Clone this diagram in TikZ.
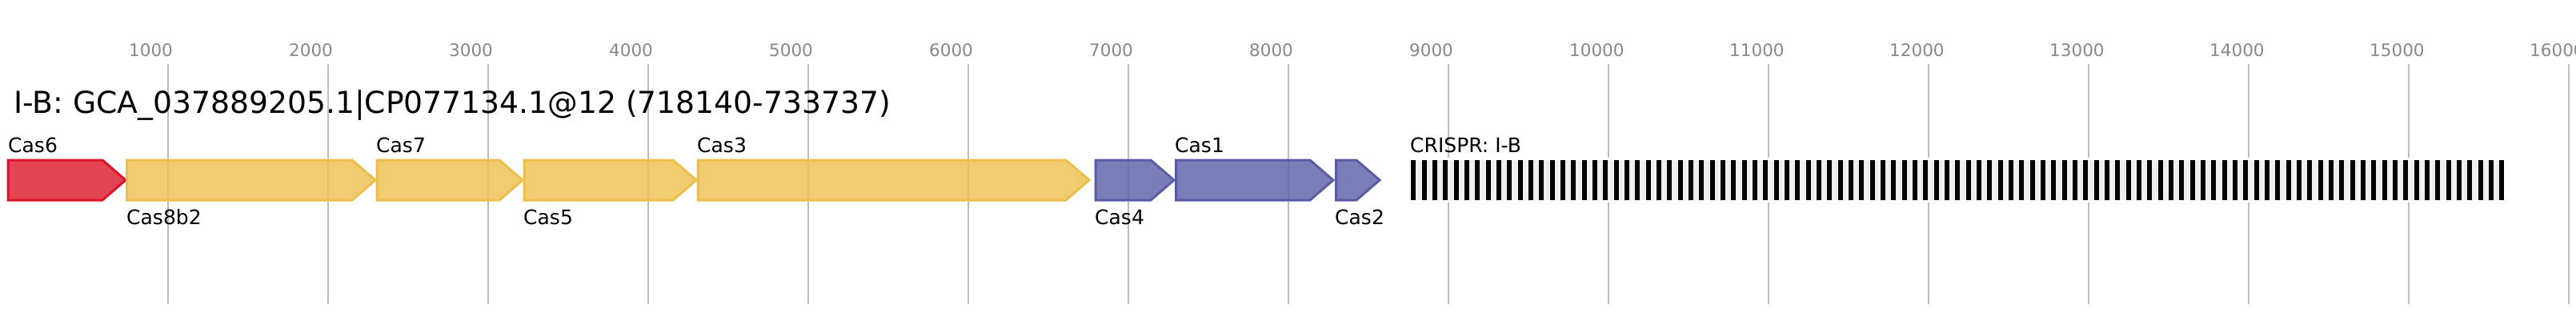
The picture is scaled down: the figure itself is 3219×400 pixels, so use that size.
\documentclass[tikz,border=0pt]{standalone}
\usepackage{fontspec}
\setmainfont{DejaVu Sans}
\definecolor{cred}{RGB}{221,20,39}
\definecolor{cyel}{RGB}{237,190,75}
\definecolor{cblu}{RGB}{90,93,165}
\definecolor{gridc}{RGB}{190,190,190}
\definecolor{tickc}{RGB}{136,136,136}
\definecolor{crgray}{RGB}{239,239,239}
\tikzset{
  gridline/.style={draw=gridc, line width=1.5pt},
  ticklabel/.style={anchor=base west, inner sep=0pt, text=tickc, font=\fontsize{21.5}{24}\selectfont},
  genelabel/.style={anchor=base west, inner sep=0pt, font=\fontsize{25}{28}\selectfont},
  titlelabel/.style={anchor=base west, inner sep=0pt, font=\fontsize{37.7}{40}\selectfont},
  gene/.style={line width=3pt, fill opacity=0.8, line join=miter},
}
\newcommand\genearrow[3]{% color, start, tip
  \draw[gene, draw=#1, fill=#1] (#2,200) -- ({#3-29},200) -- (#3,225) -- ({#3-29},250) -- (#2,250) -- cycle;}
\begin{document}
\begin{tikzpicture}[x=1pt,y=-1pt]
\useasboundingbox (0,0) rectangle (3219,400);
\clip (0,0) rectangle (3219,400);
% grid and tick labels
\foreach \k in {1,...,16} {
  \pgfmathsetmacro\gx{10+200*\k}
  \draw[gridline] (\gx,80) -- (\gx,380);
  \pgfmathtruncatemacro\lab{1000*\k}
  \node[ticklabel] (tick\k) at (\gx-49,70) {\lab};
}
% title
\node[titlelabel] (title) at (17,141) {I-B: GCA\_037889205.1|CP077134.1@12 (718140-733737)};
% genes
\genearrow{cred}{10}{157}
\genearrow{cyel}{158.5}{469}
\genearrow{cyel}{471}{653}
\genearrow{cyel}{655}{870}
\genearrow{cyel}{872}{1361}
\genearrow{cblu}{1369}{1467}
\genearrow{cblu}{1469.5}{1666}
\genearrow{cblu}{1669.5}{1724}
% CRISPR array
\fill[white] (1761,197) rectangle (3131.5,253);
\fill[crgray] (1763.3,200) rectangle (3129.3,250);
\foreach \i in {0,...,102} {
  \fill[black] ({1763.3+\i*13.3333},200) rectangle ++(6,50);
}
% labels
\node[genelabel] (lCas6) at (10,190) {Cas6};
\node[genelabel] (lCas8b2) at (158,280) {Cas8b2};
\node[genelabel] (lCas7) at (470,190) {Cas7};
\node[genelabel] (lCas5) at (654,280) {Cas5};
\node[genelabel] (lCas3) at (871,190) {Cas3};
\node[genelabel] (lCas4) at (1368,280) {Cas4};
\node[genelabel] (lCas1) at (1468,190) {Cas1};
\node[genelabel] (lCas2) at (1668,280) {Cas2};
\node[genelabel] (lCRISPR) at (1762,190) {CRISPR: I-B};
\end{tikzpicture}
\end{document}
